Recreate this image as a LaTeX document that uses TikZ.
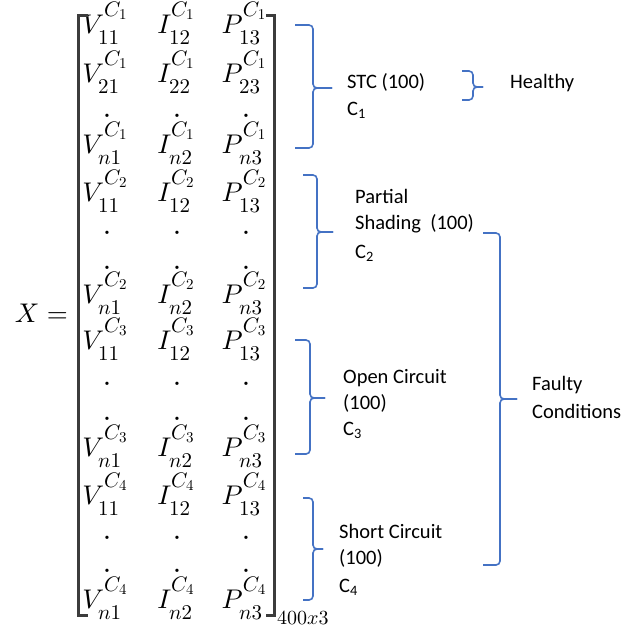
\documentclass[tikz,border=0pt]{standalone}
\usepackage{fontspec}
\newfontfamily\labelfont{Carlito}
% scalable Computer Modern shapes for the large math
\DeclareFontShape{OML}{cmm}{m}{it}{<->cmmi10}{}
\DeclareFontShape{OMS}{cmsy}{m}{n}{<->cmsy10}{}
\DeclareFontShape{OT1}{cmr}{m}{n}{<->cmr10}{}
\DeclareMathSizes{27}{27}{21}{15}
\DeclareMathSizes{20}{20}{15}{10}
\definecolor{braceblue}{HTML}{4472C4}
\definecolor{bracketgray}{HTML}{3C3C3C}

% wider script shifts for the matrix entries
\newcommand\mathshifts{%
  \fontdimen13\textfont2=17pt \fontdimen14\textfont2=17pt
  \fontdimen15\textfont2=17pt \fontdimen16\textfont2=11pt
  \fontdimen17\textfont2=11pt }

\tikzset{
  entry/.style={anchor=base, inner sep=0pt, font=\fontsize{27}{32}\selectfont},
  dotmark/.style={anchor=base, inner sep=0pt, font=\fontsize{32}{36}\selectfont},
  lbl/.style={anchor=base west, inner sep=0pt, font=\labelfont\fontsize{20.5}{25}\selectfont},
  curly/.style={draw=braceblue, line width=1.6pt, rounded corners=4pt},
  bracket/.style={draw=bracketgray, line width=3pt},
}

% one matrix row: name, baseline, row index, class index
\newcommand\mrow[4]{%
  \node[entry] (#1v) at (105,#2) {$\mathshifts V_{#31}^{C_{#4}}$};
  \node[entry] (#1i) at (176,#2) {$\mathshifts I_{#32}^{C_{#4}}$};
  \node[entry] (#1p) at (244,#2) {$\mathshifts P_{#33}^{C_{#4}}$};}
% a row of dots
\newcommand\drow[2]{%
  \node[dotmark] (#1v) at (107,#2) {$.$};
  \node[dotmark] (#1i) at (177,#2) {$.$};
  \node[dotmark] (#1p) at (246,#2) {$.$};}
% right curly brace: left x, stem x, tip x, top y, middle y, bottom y
\newcommand\sidebrace[6]{%
  \draw[curly] (#1,#4) -- (#2,#4) -- (#2,#5) -- (#3,#5);
  \draw[curly] (#1,#6) -- (#2,#6) -- (#2,#5) -- (#3,#5);}

\begin{document}
\begin{tikzpicture}[x=1pt,y=-1pt]
\useasboundingbox[fill=white] (0,0) rectangle (640,629);

% left-hand side
\node[entry, anchor=base east] (lhs) at (68,322) {$X =$};

% matrix body
\mrow{a1}{33}{1}{1}
\mrow{a2}{82}{2}{1}
\drow{a3}{117}
\mrow{a4}{153}{n}{1}
\mrow{b1}{201}{1}{2}
\drow{b2}{234}
\drow{b3}{269}
\mrow{b4}{303}{n}{2}
\mrow{c1}{349}{1}{3}
\drow{c2}{385}
\drow{c3}{420}
\mrow{c4}{456}{n}{3}
\mrow{d1}{504}{1}{4}
\drow{d2}{539}
\drow{d3}{572}
\mrow{d4}{608}{n}{4}

% brackets
\draw[bracket] (88,15) -- (78,15) -- (78,615) -- (88,615);
\draw[bracket] (266,15) -- (274,15) -- (274,615) -- (266,615);
\node[anchor=base west, inner sep=0pt, font=\fontsize{20}{24}\selectfont] (dims) at (277,624) {$400x3$};

% class braces
\sidebrace{295}{313}{332}{25}{88}{148}
\sidebrace{303}{317}{333}{175}{232}{288}
\sidebrace{295}{310}{325}{340}{398}{454}
\sidebrace{303}{313}{323}{498}{549}{600}
% group braces
\sidebrace{462}{473}{483}{71}{87}{100}
\sidebrace{483}{500}{517}{233}{399}{565}

% labels
\node[lbl] (stc) at (347,88) {STC (100)};
\node[lbl] (cl1) at (347,115) {C\textsubscript{1}};
\node[lbl] (healthy) at (510,88) {Healthy};
\node[lbl] (ps1) at (355,203) {Partial};
\node[lbl] (ps2) at (355,229) {Shading\ \ (100)};
\node[lbl] (cl2) at (355,258) {C\textsubscript{2}};
\node[lbl] (oc1) at (343,383) {Open Circuit};
\node[lbl] (oc2) at (343,409) {(100)};
\node[lbl] (cl3) at (343,435) {C\textsubscript{3}};
\node[lbl] (sc1) at (339,538) {Short Circuit};
\node[lbl] (sc2) at (339,564) {(100)};
\node[lbl] (cl4) at (339,592) {C\textsubscript{4}};
\node[lbl] (fc1) at (532,390) {Faulty};
\node[lbl] (fc2) at (532,418) {Conditions};
\end{tikzpicture}
\end{document}
